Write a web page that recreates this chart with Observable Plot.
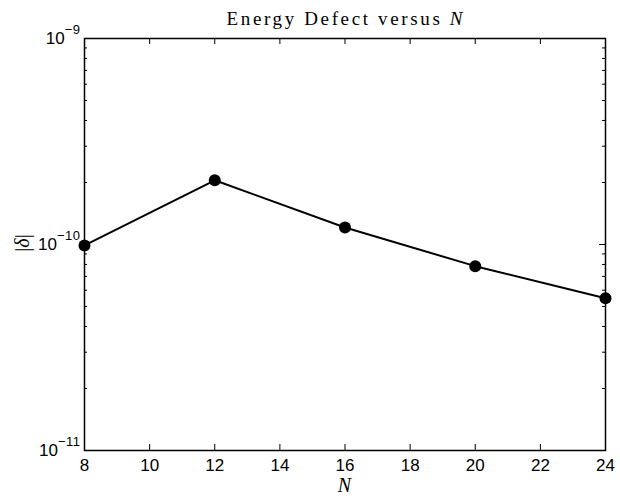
<!DOCTYPE html>
<html><head><meta charset="utf-8">
<script src="https://cdn.jsdelivr.net/npm/d3@7"></script>
<script src="https://cdn.jsdelivr.net/npm/@observablehq/plot@0.6"></script>
<style>body{margin:0;background:#fff}</style>
</head><body><div id="chart"></div>
<script>
const N = [8, 12, 16, 20, 24];
const delta = [9.9e-11, 2.05e-10, 1.21e-10, 7.85e-11, 5.48e-11];
const xTicks = [8, 10, 12, 14, 16, 18, 20, 22, 24];
const yMajor = [1e-11, 1e-10, 1e-9];
const yMinor = [2e-11, 3e-11, 4e-11, 5e-11, 6e-11, 7e-11, 8e-11, 9e-11,
                2e-10, 3e-10, 4e-10, 5e-10, 6e-10, 7e-10, 8e-10, 9e-10];
const titleText = "Energy Defect versus ";
const titleVar = "N";
const xLabel = "N";
const yLabel = "δ";

const data = N.map((n, i) => ({N: n, delta: delta[i]}));

const W = 620, H = 498, mL = 84, mR = 15, mT = 38, mB = 48;
const pw = W - mL - mR, ph = H - mT - mB;
const sans = "Liberation Sans, Arial, Helvetica, sans-serif";
const serif = "Liberation Serif, Times New Roman, serif";

const chart = Plot.plot({
  width: W, height: H,
  marginLeft: mL, marginRight: mR, marginTop: mT, marginBottom: mB,
  style: {background: "#fff", color: "#000", fontFamily: sans, fontSize: "17px"},
  x: {domain: [8, 24]},
  y: {type: "log", domain: [1e-11, 1e-9]},
  marks: [
    Plot.frame({stroke: "#000", strokeWidth: 1.5}),
    Plot.tickX(xTicks, {x: d => d, insetTop: ph - 6, stroke: "#000", strokeWidth: 1}),
    Plot.tickX(xTicks, {x: d => d, insetBottom: ph - 6, stroke: "#000", strokeWidth: 1}),
    Plot.tickY(yMajor, {y: d => d, insetRight: pw - 6, stroke: "#000", strokeWidth: 1}),
    Plot.tickY(yMajor, {y: d => d, insetLeft: pw - 6, stroke: "#000", strokeWidth: 1}),
    Plot.tickY(yMinor, {y: d => d, insetRight: pw - 3, stroke: "#000", strokeWidth: 1}),
    Plot.tickY(yMinor, {y: d => d, insetLeft: pw - 3, stroke: "#000", strokeWidth: 1}),
    Plot.axisX({ticks: xTicks, tickSize: 0, tickPadding: 8, tickFormat: d => String(d), label: null, fontSize: 17}),
    Plot.axisY({ticks: yMajor, tickSize: 0, tickPadding: 4, tickFormat: d => "10^" + Math.round(Math.log10(d)), label: null, fontSize: 17}),
    Plot.line(data, {x: "N", y: "delta", stroke: "#000", strokeWidth: 2}),
    Plot.dot(data, {x: "N", y: "delta", r: 6, fill: "#000", stroke: "none"})
  ]
});

const svg = d3.select(chart);
svg.selectAll("g[aria-label='x-axis tick label'] text, g[aria-label='y-axis tick label'] text")
  .style("font-family", sans).style("font-size", "17px").attr("fill", "#000");

svg.selectAll("text").each(function() {
  const t = this.textContent;
  if (t.includes("^")) {
    const [base, exp] = t.split("^");
    const sel = d3.select(this);
    sel.text(null);
    sel.append("tspan").text(base);
    sel.append("tspan").attr("dy", "-10px").style("font-size", "13px")
      .style("letter-spacing", "0.5px")
      .text(exp.replace("-", "\u2212"));
  }
});

const tt = svg.append("text")
  .attr("x", mL + pw / 2).attr("y", 25)
  .attr("text-anchor", "middle")
  .style("font-family", serif).style("font-size", "19px")
  .attr("textLength", 236).attr("lengthAdjust", "spacing")
  .attr("fill", "#000");
tt.append("tspan").text(titleText);
tt.append("tspan").style("font-style", "italic").text(titleVar);

svg.append("text")
  .attr("x", mL + pw / 2).attr("y", 492)
  .attr("text-anchor", "middle")
  .style("font-family", serif).style("font-size", "20px").style("font-style", "italic")
  .attr("fill", "#000").text(xLabel);

const yl = svg.append("text")
  .attr("transform", "translate(29,243) rotate(-90)")
  .attr("text-anchor", "middle")
  .style("font-family", serif).style("font-size", "20px")
  .attr("fill", "#000");
yl.append("tspan").text("|");
yl.append("tspan").style("font-style", "italic").text(yLabel);
yl.append("tspan").text("|");

document.getElementById("chart").appendChild(chart);
</script>
</body></html>
